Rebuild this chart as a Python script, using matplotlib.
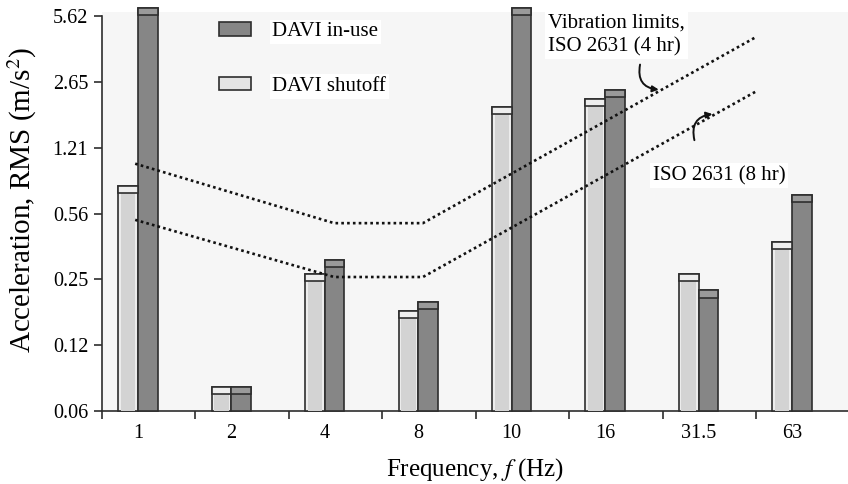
import numpy as np
import matplotlib
matplotlib.use("Agg")
import matplotlib.pyplot as plt
from matplotlib.patches import Patch

plt.rcParams["font.family"] = ["Liberation Serif", "DejaVu Serif"]
plt.rcParams["mathtext.fontset"] = "stix"

# frequency bands and measured RMS acceleration (m/s^2)
freq_labels = ["1", "2", "4", "8", "10", "16", "31.5", "63"]
davi_shutoff = [0.80, 0.079, 0.29, 0.19, 1.98, 2.17, 0.29, 0.42]
davi_in_use = [6.16, 0.079, 0.34, 0.21, 6.16, 2.40, 0.24, 0.72]

# ISO 2631 exposure limits, traced across the band positions
iso_x = [-0.03, 2.1, 3.05, 6.62]
iso_4hr = [1.03, 0.52, 0.52, 4.43]
iso_8hr = [0.54, 0.28, 0.28, 2.37]

y_tick_labels = ["0.06", "0.12", "0.25", "0.56", "1.21", "2.65", "5.62"]
y_ticks = np.geomspace(0.06, 5.62, len(y_tick_labels))

BASE = 0.06
CAP = 1.085
W = 0.21
EDGE = "#2e2e2e"

fig = plt.figure(figsize=(8.48, 4.84), dpi=100)
ax = fig.add_axes([0.1203, 0.1508, 0.8797, 0.8244])
ax.set_facecolor("#f6f6f6")
ax.set_yscale("log")


def draw_bars(xs, vals, fill, cap_fill, inner=None):
    for x, v in zip(xs, vals):
        ax.bar(x, v - BASE, W, bottom=BASE, color=fill, edgecolor=EDGE,
               linewidth=1.2, clip_on=False, zorder=3)
        if inner:
            ax.bar(x, v / CAP - BASE, W * 0.74, bottom=BASE, color=inner,
                   linewidth=0, clip_on=False, zorder=3.5)
        ax.bar(x, v - v / CAP, W, bottom=v / CAP, color=cap_fill,
               edgecolor=EDGE, linewidth=1.2, clip_on=False, zorder=4)


idx = np.arange(len(freq_labels))
draw_bars(idx - W / 2, davi_shutoff, "#ececec", "#eeeeee", inner="#d3d3d3")
draw_bars(idx + W / 2, davi_in_use, "#868686", "#9a9a9a")

ax.plot(iso_x, iso_4hr, color="#111111", ls=(0, (1, 1.2)), lw=1.9, zorder=5)
ax.plot(iso_x, iso_8hr, color="#111111", ls=(0, (1, 1.2)), lw=1.9, zorder=5)

ax.set_xlim(-0.385, 7.6)
ax.set_ylim(BASE, 5.89)

# category boundaries as ticks, labels sit under the bar pairs
ax.set_xticks(idx - 0.385)
ax.set_xticklabels([])
ax.set_xticks(idx, minor=True)
ax.set_xticklabels(freq_labels, minor=True, fontsize=14.5)
ax.tick_params(axis="x", which="major", direction="out", length=6, width=1.2, color=EDGE)
ax.tick_params(axis="x", which="minor", length=0, pad=9)

ax.set_yticks(y_ticks)
ax.set_yticklabels(y_tick_labels, fontsize=14.5)
ax.yaxis.set_minor_locator(matplotlib.ticker.NullLocator())
ax.tick_params(axis="y", direction="out", length=6, width=1.2, color=EDGE, pad=4)

for s in ("top", "right"):
    ax.spines[s].set_visible(False)
ax.spines["left"].set_bounds(BASE, 5.62)
ax.spines["left"].set_color(EDGE)
ax.spines["left"].set_linewidth(1.2)
ax.spines["bottom"].set_color(EDGE)
ax.spines["bottom"].set_linewidth(1.2)

ax.set_xlabel("Frequency, $f$ (Hz)", fontsize=18, labelpad=10)
ax.set_ylabel("Acceleration, RMS (m/s$^2$)", fontsize=21)
ax.yaxis.set_label_coords(-0.084, 0.53)

handles = [Patch(facecolor="#868686", edgecolor=EDGE, linewidth=1.2, label="DAVI in-use"),
           Patch(facecolor="#e4e4e4", edgecolor=EDGE, linewidth=1.2, label="DAVI shutoff")]
leg = ax.legend(handles=handles, loc="upper left", bbox_to_anchor=(0.143, 1.0),
                frameon=False, fontsize=15, handlelength=1.55, handleheight=0.6,
                handletextpad=1.0, labelspacing=1.7, borderpad=0)
for t in leg.get_texts():
    t.set_bbox(dict(facecolor="white", edgecolor="none", pad=2))

box = dict(facecolor="white", edgecolor="none", pad=2)
ax.text(0.598, 0.997, "Vibration limits,\nISO 2631 (4 hr)", transform=ax.transAxes,
        fontsize=15, ha="left", va="top", linespacing=1.35, bbox=box, zorder=6)
ax.text(0.738, 0.59, "ISO 2631 (8 hr)", transform=ax.transAxes,
        fontsize=15, ha="left", va="center", bbox=box, zorder=6)

arrow = dict(arrowstyle="-|>", color="#111111", lw=1.4, mutation_scale=9)
ax.annotate("", xy=(0.75, 0.805), xytext=(0.722, 0.875), xycoords="axes fraction",
            arrowprops=dict(arrow, connectionstyle="arc3,rad=0.6"), zorder=6)
ax.annotate("", xy=(0.822, 0.745), xytext=(0.795, 0.672), xycoords="axes fraction",
            arrowprops=dict(arrow, connectionstyle="arc3,rad=-0.6"), zorder=6)

fig.savefig("out.png", dpi=100, facecolor="white")
